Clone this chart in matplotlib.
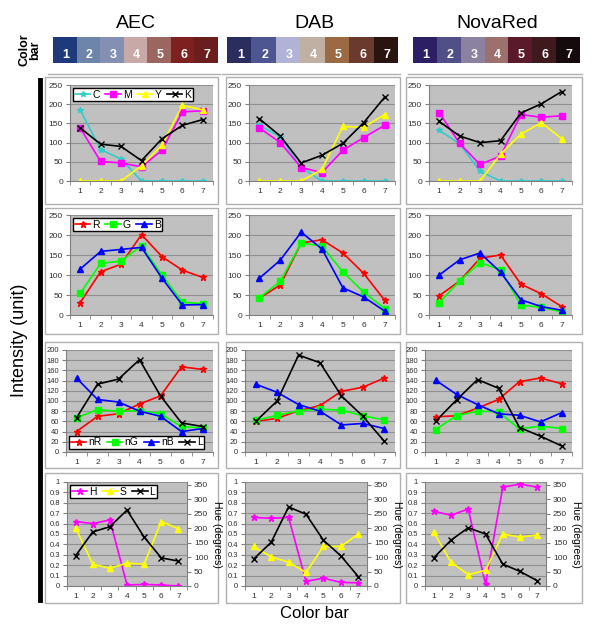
import matplotlib
matplotlib.use('Agg')
import matplotlib.pyplot as plt
from matplotlib.patches import Rectangle
import numpy as np

plt.rcParams['font.family'] = ['Liberation Sans', 'DejaVu Sans']

stains = ['AEC', 'DAB', 'NovaRed']
steps = [1, 2, 3, 4, 5, 6, 7]

bar_colors = {
    'AEC': ['#1f3a7a', '#6d85a8', '#8390b3', '#c9a9a8', '#9c6660', '#7e2020', '#6a1e1e'],
    'DAB': ['#2a2d5e', '#4d5690', '#b0b3d6', '#bfb0a3', '#9c6a42', '#6a3a2e', '#2a1410'],
    'NovaRed': ['#2d1f63', '#514f88', '#8a82a0', '#9c706c', '#5a1a2c', '#3e1a1e', '#150a0c'],
}

# CMYK
cmyk_C = {'AEC': [185, 82, 57, 0, 0, 0, 0], 'DAB': [145, 115, 35, 0, 0, 0, 0], 'NovaRed': [132, 97, 25, 0, 0, 0, 0]}
cmyk_M = {'AEC': [138, 51, 47, 37, 80, 180, 183], 'DAB': [138, 100, 35, 22, 80, 113, 145], 'NovaRed': [178, 98, 43, 65, 173, 166, 170]}
cmyk_Y = {'AEC': [0, 0, 0, 40, 93, 197, 185], 'DAB': [0, 0, 0, 30, 142, 140, 173], 'NovaRed': [0, 0, 0, 70, 122, 152, 110]}
cmyk_K = {'AEC': [138, 96, 90, 53, 110, 145, 160], 'DAB': [162, 117, 47, 67, 98, 152, 218], 'NovaRed': [155, 117, 100, 105, 177, 201, 233]}

# RGB
rgb_R = {'AEC': [31, 108, 127, 201, 146, 112, 94], 'DAB': [42, 75, 180, 188, 155, 104, 37], 'NovaRed': [48, 85, 142, 150, 77, 53, 21]}
rgb_G = {'AEC': [54, 129, 135, 173, 100, 32, 28], 'DAB': [43, 84, 180, 172, 108, 57, 16], 'NovaRed': [31, 85, 131, 113, 25, 19, 8]}
rgb_B = {'AEC': [115, 159, 164, 169, 92, 25, 26], 'DAB': [92, 137, 207, 165, 68, 45, 10], 'NovaRed': [100, 138, 155, 107, 38, 21, 12]}

# normalised RGB + luminance
n_R = {'AEC': [40, 70, 75, 94, 110, 167, 162], 'DAB': [60, 66, 81, 91, 119, 127, 145], 'NovaRed': [69, 71, 86, 103, 138, 145, 134]}
n_G = {'AEC': [67, 83, 80, 81, 75, 50, 47], 'DAB': [62, 72, 81, 84, 82, 71, 63], 'NovaRed': [44, 71, 80, 79, 45, 51, 46]}
n_B = {'AEC': [145, 103, 98, 80, 70, 40, 46], 'DAB': [133, 117, 93, 80, 53, 56, 46], 'NovaRed': [141, 113, 93, 75, 72, 59, 77]}
n_L = {'AEC': [67, 133, 143, 181, 110, 57, 50], 'DAB': [60, 100, 190, 175, 110, 70, 21], 'NovaRed': [60, 102, 142, 125, 48, 31, 12]}

# HSL (0-1)
hsl_H = {'AEC': [0.62, 0.60, 0.635, 0.01, 0.015, 0.01, 0.0], 'DAB': [0.66, 0.65, 0.66, 0.045, 0.075, 0.035, 0.03], 'NovaRed': [0.72, 0.68, 0.74, 0.02, 0.95, 0.98, 0.95]}
hsl_S = {'AEC': [0.56, 0.21, 0.17, 0.22, 0.21, 0.62, 0.55], 'DAB': [0.38, 0.28, 0.23, 0.13, 0.38, 0.38, 0.50], 'NovaRed': [0.52, 0.23, 0.11, 0.15, 0.50, 0.47, 0.49]}
hsl_L = {'AEC': [0.29, 0.52, 0.57, 0.73, 0.47, 0.27, 0.24], 'DAB': [0.26, 0.42, 0.76, 0.69, 0.44, 0.29, 0.09], 'NovaRed': [0.27, 0.44, 0.56, 0.50, 0.21, 0.14, 0.05]}

fig = plt.figure(figsize=(6.0, 6.31), dpi=100)
W, H = 600.0, 631.0


def fx(px):
    return px / W


def fy(py):
    return 1 - py / H


def box(x0, y0, x1, y1):
    fig.patches.append(Rectangle((fx(x0), fy(y1)), fx(x1 - x0), (y1 - y0) / H,
                                 transform=fig.transFigure, facecolor='white',
                                 edgecolor='#b0b0b0', lw=1.0, zorder=-10))


col_box = [(45, 218), (226, 400), (406, 582)]
row_box = [(77, 204), (208, 334), (342, 468), (473, 603)]
for r0, r1 in row_box:
    for c0, c1 in col_box:
        box(c0, r0, c1, r1)

# plot area pixel rects
col_px = [(70, 213), (249, 395), (429, 572)]
col_px4 = [(67, 187), (245, 367), (425, 546)]
row_px = [(85, 181), (215, 315), (350, 452), (482, 586)]


def make_ax(x0, x1, y0, y1):
    ax = fig.add_axes([fx(x0), fy(y1), fx(x1 - x0), (y1 - y0) / H])
    ax.set_facecolor('#c0c0c0')
    ax.set_xlim(0.5, 7.5)
    ax.set_xticks(steps)
    ax.set_xticks(np.arange(0.5, 8, 1), minor=True)
    ax.tick_params(axis='x', which='major', length=0, labelsize=6, pad=5, labelcolor='#303030')
    ax.tick_params(axis='x', which='minor', length=3, color='#808080')
    ax.tick_params(axis='y', length=3, labelsize=6, color='#808080', pad=2, labelcolor='#303030')
    for s in ['top', 'right']:
        ax.spines[s].set_visible(False)
    for s in ['left', 'bottom']:
        ax.spines[s].set_color('#808080')
    ax.grid(axis='y', color='#909090', lw=0.8)
    ax.set_axisbelow(True)
    return ax


def add_legend(ax, loc, ncol):
    ax.legend(loc=loc, ncol=ncol, fontsize=7.5, frameon=True, fancybox=False,
              edgecolor='black', handlelength=1.5, columnspacing=0.5, handletextpad=0.2,
              borderpad=0.15, borderaxespad=0.3, framealpha=1)


lw = 1.2
for j, st in enumerate(stains):
    # row 1: CMYK
    ax = make_ax(col_px[j][0], col_px[j][1], *row_px[0])
    ax.plot(steps, cmyk_C[st], color='#33cccc', marker='*', ms=4, lw=lw, label='C')
    ax.plot(steps, cmyk_M[st], color='#ff00ff', marker='s', ms=4, lw=lw, label='M')
    ax.plot(steps, cmyk_Y[st], color='#ffff00', marker='^', ms=4, lw=lw, label='Y')
    ax.plot(steps, cmyk_K[st], color='#000000', marker='x', ms=4, lw=lw, label='K')
    ax.set_ylim(0, 250)
    ax.set_yticks(range(0, 251, 50))
    if j == 0:
        add_legend(ax, 'upper left', 4)

    # row 2: RGB
    ax = make_ax(col_px[j][0], col_px[j][1], *row_px[1])
    ax.plot(steps, rgb_R[st], color='#ff0000', marker='*', ms=5, lw=lw, label='R')
    ax.plot(steps, rgb_G[st], color='#00ff00', marker='s', ms=4, lw=lw, label='G')
    ax.plot(steps, rgb_B[st], color='#0000ff', marker='^', ms=4, lw=lw, label='B')
    ax.set_ylim(0, 250)
    ax.set_yticks(range(0, 251, 50))
    if j == 0:
        add_legend(ax, 'upper left', 3)

    # row 3: normalised RGB + L
    ax = make_ax(col_px[j][0] - 4, col_px[j][1], *row_px[2])
    ax.plot(steps, n_R[st], color='#ff0000', marker='*', ms=5, lw=lw, label='nR')
    ax.plot(steps, n_G[st], color='#00ff00', marker='s', ms=4, lw=lw, label='nG')
    ax.plot(steps, n_B[st], color='#0000ff', marker='^', ms=4, lw=lw, label='nB')
    ax.plot(steps, n_L[st], color='#000000', marker='x', ms=4, lw=lw, label='L')
    ax.set_ylim(0, 200)
    ax.set_yticks(range(0, 201, 20))
    ax.tick_params(axis='y', labelsize=5.5)
    if j == 0:
        add_legend(ax, 'lower left', 4)

    # row 4: HSL
    ax = make_ax(col_px4[j][0], col_px4[j][1], *row_px[3])
    ax.plot(steps, hsl_H[st], color='#ff00ff', marker='*', ms=5, lw=lw, label='H')
    ax.plot(steps, hsl_S[st], color='#ffff00', marker='^', ms=4, lw=lw, label='S')
    ax.plot(steps, hsl_L[st], color='#000000', marker='x', ms=4, lw=lw, label='L')
    ax.set_ylim(0, 1)
    ax.set_yticks(np.arange(0, 1.01, 0.1))
    ax.set_yticklabels(['0', '0.1', '0.2', '0.3', '0.4', '0.5', '0.6', '0.7', '0.8', '0.9', '1'])
    ax.tick_params(axis='y', labelsize=5.5)
    ax2 = ax.twinx()
    ax2.set_ylim(0, 360)
    ax2.set_yticks(range(0, 351, 50))
    ax2.tick_params(axis='y', length=3, labelsize=6, color='#808080', pad=2, labelcolor='#303030')
    for s in ['top', 'left', 'bottom']:
        ax2.spines[s].set_visible(False)
    ax2.spines['right'].set_color('#808080')
    ax2.set_ylabel('Hue (degrees)', rotation=-90, fontsize=7.5, labelpad=10)
    if j == 0:
        add_legend(ax, 'upper left', 3)

# colour bars and titles
bar_px = [(53, 218), (227, 398), (413, 580)]
title_x = [136, 314, 497]
for j, st in enumerate(stains):
    bx = fig.add_axes([fx(bar_px[j][0]), fy(63), fx(bar_px[j][1] - bar_px[j][0]), 26 / H])
    for k, c in enumerate(bar_colors[st]):
        bx.add_patch(Rectangle((k, 0), 1, 1, facecolor=c, edgecolor='none'))
        bx.text(k + 0.55, 0.3, str(steps[k]), color='white', fontsize=9, fontweight='bold',
                ha='center', va='center')
    bx.set_xlim(0, 7)
    bx.set_ylim(0, 1)
    bx.axis('off')
    fig.text(fx(title_x[j]), fy(24), st, fontsize=14, ha='center', va='center')
    fig.add_artist(plt.Line2D([fx(bar_px[j][0] - 5), fx(bar_px[j][1] + 2)], [fy(74), fy(74)],
                              color='#b0b0b0', lw=1))

fig.text(fx(30), fy(50), 'Color\nbar', rotation=90, fontsize=9, fontweight='bold',
         ha='center', va='center', linespacing=0.9)

fig.add_artist(plt.Line2D([fx(40), fx(40)], [fy(80), fy(600)], color='black', lw=3.5))
fig.text(fx(20), fy(340), 'Intensity (unit)', rotation=90, fontsize=13, ha='center', va='center')
fig.text(fx(315), fy(614), 'Color bar', fontsize=12, ha='center', va='center')

fig.savefig('out.png', dpi=100)
